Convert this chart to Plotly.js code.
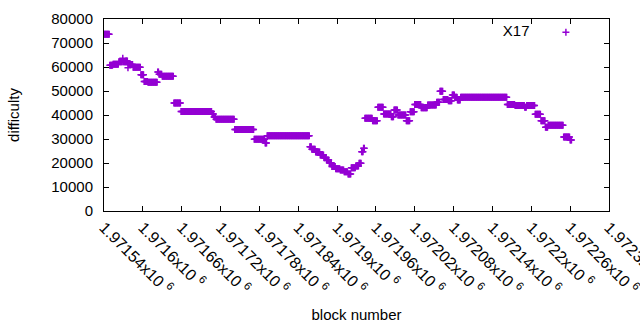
<!DOCTYPE html>
<html>
<head>
<meta charset="utf-8">
<script src="https://cdn.plot.ly/plotly-3.0.1.min.js"></script>
<style>html,body{margin:0;padding:0;background:#fff;}#chart{width:640px;height:330px;}</style>
</head>
<body>
<div id="chart"></div>
<script>
// Difficulty runs: block where a run starts and its difficulty
const runStart = [
  1971540, 1971549, 1971554, 1971563, 1971569, 1971570, 1971574, 1971577, 1971578, 1971585,
  1971597, 1971602, 1971608, 1971623, 1971625, 1971630, 1971648, 1971659, 1971707, 1971710,
  1971713, 1971742, 1971772, 1971789, 1971792, 1971858, 1971861, 1971867, 1971874, 1971880,
  1971884, 1971888, 1971892, 1971898, 1971905, 1971911, 1971917, 1971922, 1971929, 1971934,
  1971938, 1971941, 1971943, 1971955, 1971963, 1971972, 1971984, 1971988, 1971994, 1972007,
  1972013, 1972020, 1972030, 1972040, 1972054, 1972059, 1972064, 1972072, 1972078, 1972082,
  1972086, 1972091, 1972163, 1972175, 1972190, 1972193, 1972206, 1972215, 1972222, 1972226,
  1972250, 1972260
];
const runValue = [
  73600, 60700, 61100, 62200, 63600, 62200, 62500, 59700, 61000, 59900,
  56800, 54000, 53600, 57900, 57000, 56100, 45000, 41500, 40400, 39200,
  38200, 34000, 29900, 28300, 31400, 26800, 25700, 24600, 23300, 22200,
  21250, 20100, 18500, 17600, 17100, 16400, 15400, 18000, 18750, 19900,
  24700, 26100, 38600, 37600, 43200, 40400, 39300, 42100, 40000, 37600,
  41400, 44400, 43000, 44200, 45300, 49900, 46500, 45900, 48300, 47400,
  46200, 47400, 44400, 44000, 43200, 44000, 40300, 37600, 34900, 35700,
  30800, 29600
];
const lastBlock = 1972262;

const xTickVals = [1971540, 1971600, 1971660, 1971720, 1971780, 1971840, 1971900,
  1971960, 1972020, 1972080, 1972140, 1972200, 1972260, 1972320];
const xTickLabels = ['1.97154', '1.9716', '1.97166', '1.97172', '1.97178', '1.97184', '1.9719',
  '1.97196', '1.97202', '1.97208', '1.97214', '1.9722', '1.97226', '1.97232'];

// expand runs into one point per block
const xs = [], ys = [];
for (let i = 0; i < runStart.length; i++) {
  const end = (i + 1 < runStart.length) ? runStart[i + 1] : lastBlock + 1;
  for (let b = runStart[i]; b < end; b++) { xs.push(b); ys.push(runValue[i]); }
}

const FONT = 'Liberation Sans, Arial, sans-serif';
const purple = '#9400D3';

const trace = {
  x: xs, y: ys, type: 'scatter', mode: 'markers', name: ' ',
  marker: {symbol: 'cross-thin', size: 5, color: purple, line: {color: purple, width: 1.5}},
  showlegend: true
};

const layout = {
  width: 640, height: 330,
  margin: {l: 104, r: 31, t: 19, b: 119, pad: 0},
  paper_bgcolor: '#fff', plot_bgcolor: '#fff',
  font: {family: FONT, size: 15, color: '#000'},
  showlegend: true,
  legend: {
    x: 0.974, y: 1.015, xanchor: 'right', yanchor: 'top',
    bgcolor: 'rgba(0,0,0,0)', borderwidth: 0,
    title: {text: 'X17\u00a0\u00a0', side: 'left', font: {family: FONT, size: 15, color: '#000'}},
    font: {family: FONT, size: 15}
  },
  xaxis: {
    range: [1971540, 1972320],
    tickmode: 'array', tickvals: xTickVals,
    ticktext: xTickLabels.map(t => t + 'x10\u00a0<sup>6</sup>'),
    tickangle: 45, ticklabeloverflow: 'allow',
    ticks: 'inside', ticklen: 5, tickwidth: 1, tickcolor: '#000',
    showline: true, linecolor: '#000', linewidth: 1, mirror: 'allticks',
    showgrid: false, zeroline: false,
    tickfont: {family: FONT, size: 16, color: '#000'},
    title: {text: 'block number', font: {family: FONT, size: 15, color: '#000'}, standoff: 12}
  },
  yaxis: {
    range: [0, 80000], dtick: 10000, tick0: 0, tickformat: 'd',
    ticks: 'inside', ticklen: 5, tickwidth: 1, tickcolor: '#000',
    showline: true, linecolor: '#000', linewidth: 1, mirror: 'allticks',
    showgrid: false, zeroline: false, ticklabelstandoff: 7,
    tickfont: {family: FONT, size: 15, color: '#000'},
    title: {text: 'difficulty', font: {family: FONT, size: 15, color: '#000'}, standoff: 28}
  }
};

Plotly.newPlot('chart', [trace], layout, {staticPlot: true, displayModeBar: false});
</script>
</body>
</html>
